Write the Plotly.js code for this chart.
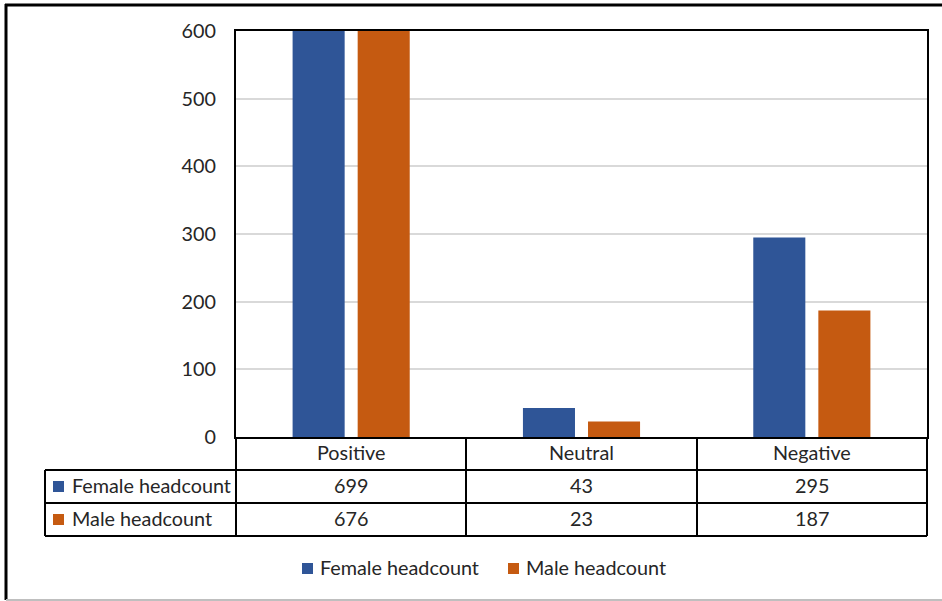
<!DOCTYPE html>
<html>
<head>
<meta charset="utf-8">
<script src="https://cdn.plot.ly/plotly-3.0.1.min.js"></script>
<style>
  html, body { margin: 0; padding: 0; background: #ffffff; }
  #chart { width: 942px; height: 601px; }
</style>
</head>
<body>
<div id="chart"></div>
<script>
// ---- data ----
const categories = ["Positive", "Neutral", "Negative"];
const seriesNames = ["Female headcount", "Male headcount"];
const femaleValues = [699, 43, 295];
const maleValues = [676, 23, 187];
const yTicks = [0, 100, 200, 300, 400, 500, 600];

// ---- style ----
const BLUE = "#2F5597";
const ORANGE = "#C55A11";
const FONT = "Lato, 'Open Sans', sans-serif";
const FS = 19.8;
const W = 942, H = 601;
const PL = 236, PR = 927, PT = 31, PB = 437;

// pixel -> paper helpers
const px = v => (v - PL) / (PR - PL);
const py = v => (PB - v) / (PB - PT);

const traces = [
  { type: "bar", name: seriesNames[0], x: categories, y: femaleValues,
    marker: { color: BLUE }, hoverinfo: "x+y+name" },
  { type: "bar", name: seriesNames[1], x: categories, y: maleValues,
    marker: { color: ORANGE }, hoverinfo: "x+y+name" }
];

const shapes = [];
const annotations = [];
const line = { color: "#000000", width: 2 };

// outer chart frame (top, left, bottom)
shapes.push({ type: "line", xref: "paper", yref: "paper", x0: px(5), x1: px(942), y0: py(5), y1: py(5), line: { color: "#000", width: 3 } });
shapes.push({ type: "line", xref: "paper", yref: "paper", x0: px(6), x1: px(6), y0: py(4), y1: py(600), line: { color: "#000", width: 3 } });
shapes.push({ type: "line", xref: "paper", yref: "paper", x0: px(6), x1: px(942), y0: py(600), y1: py(600), line: { color: "#bfbfbf", width: 2 } });

// data table grid
const colX = [236, 466, 697, 927];
[470, 503, 536].forEach(ry => {
  shapes.push({ type: "line", xref: "paper", yref: "paper", x0: px(45), x1: px(927), y0: py(ry), y1: py(ry), line });
});
shapes.push({ type: "line", xref: "paper", yref: "paper", x0: px(45), x1: px(45), y0: py(470), y1: py(536), line });
colX.forEach(cx => {
  shapes.push({ type: "line", xref: "paper", yref: "paper", x0: px(cx), x1: px(cx), y0: py(437), y1: py(536), line });
});

// table text: categories and values
const rowCenters = [453.5, 486.5, 519.5];
const textShift = -1.5;
const txtFont = { family: FONT, size: FS, color: "#262626" };
categories.forEach((c, i) => {
  annotations.push({ xref: "x", yref: "paper", x: c, y: py(rowCenters[0] + textShift), text: c, showarrow: false,
    xanchor: "center", yanchor: "middle", font: txtFont });
  annotations.push({ xref: "x", yref: "paper", x: c, y: py(rowCenters[1] + textShift), text: String(femaleValues[i]), showarrow: false,
    xanchor: "center", yanchor: "middle", font: txtFont });
  annotations.push({ xref: "x", yref: "paper", x: c, y: py(rowCenters[2] + textShift), text: String(maleValues[i]), showarrow: false,
    xanchor: "center", yanchor: "middle", font: txtFont });
});

// row headers with legend keys
const keyColors = [BLUE, ORANGE];
seriesNames.forEach((s, i) => {
  const cy = rowCenters[i + 1];
  shapes.push({ type: "rect", xref: "paper", yref: "paper", x0: px(53), x1: px(64), y0: py(cy - 5.5), y1: py(cy + 5.5),
    fillcolor: keyColors[i], line: { width: 0 } });
  annotations.push({ xref: "paper", yref: "paper", x: px(70), y: py(cy + textShift), text: s, showarrow: false,
    xanchor: "left", yanchor: "middle", font: txtFont });
});

// bottom legend
const legendKeyX = [302, 508];
seriesNames.forEach((s, i) => {
  const cy = 568.5;
  shapes.push({ type: "rect", xref: "paper", yref: "paper", x0: px(legendKeyX[i]), x1: px(legendKeyX[i] + 11), y0: py(cy - 5.5), y1: py(cy + 5.5),
    fillcolor: keyColors[i], line: { width: 0 } });
  annotations.push({ xref: "paper", yref: "paper", x: px(legendKeyX[i] + 16), y: py(cy + textShift), text: s, showarrow: false,
    xanchor: "left", yanchor: "middle", font: txtFont });
});

const layout = {
  width: W, height: H,
  margin: { l: PL, r: W - PR, t: PT, b: H - PB, pad: 0 },
  paper_bgcolor: "#ffffff", plot_bgcolor: "#ffffff",
  showlegend: false,
  barmode: "group",
  bargap: 0.435,
  bargroupgap: 0.2,
  font: txtFont,
  xaxis: {
    type: "category", categoryorder: "array", categoryarray: categories,
    showticklabels: false, ticks: "", showgrid: false, zeroline: false,
    showline: true, linecolor: "#000000", linewidth: 2, mirror: true,
    fixedrange: true
  },
  yaxis: {
    range: [0, 600], tickmode: "array", tickvals: yTicks, ticktext: yTicks.map(String),
    showgrid: true, gridcolor: "#d9d9d9", gridwidth: 2, zeroline: false,
    showline: true, linecolor: "#000000", linewidth: 2, mirror: true,
    ticks: "", ticklabelstandoff: 14,
    tickfont: txtFont,
    fixedrange: true
  },
  shapes, annotations
};

Plotly.newPlot("chart", traces, layout, { displayModeBar: false, staticPlot: true });
</script>
</body>
</html>
